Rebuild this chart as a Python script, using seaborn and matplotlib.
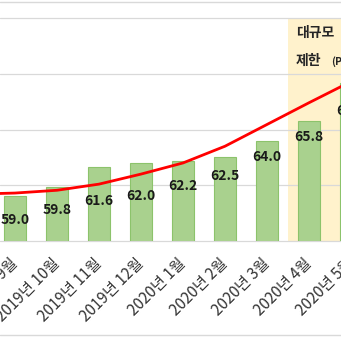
import numpy as np
import matplotlib
matplotlib.use("Agg")
import matplotlib.pyplot as plt
from matplotlib.lines import Line2D
import seaborn as sns

sns.set_style("white")
plt.rcParams["font.family"] = ["Noto Sans CJK KR", "DejaVu Sans"]

# Monthly index values
months = ["2019년 9월", "2019년 10월", "2019년 11월", "2019년 12월",
          "2020년 1월", "2020년 2월", "2020년 3월", "2020년 4월", "2020년 5월"]
values = [59.0, 59.8, 61.6, 62.0, 62.2, 62.5, 64.0, 65.8, 69.2]

# Trend curve sampled at month positions (position -1 is the month before the first shown)
trend_pos = [-1, 0, 1, 2, 3, 4, 5, 6, 7, 8]
trend_vals = [59.2, 59.3, 59.55, 60.1, 61.0, 62.0, 63.5, 65.45, 67.4, 69.3]

# Gridline levels
grid_levels = [55, 60, 65, 70, 75]

# How far each value label sits below its bar top (pixels)
label_drop_px = [24, 23, 34, 33, 25, 19, 16, 16, 28]

W, H, DPI = 341, 337, 100
fig = plt.figure(figsize=(W / DPI, H / DPI), dpi=DPI)
fig.patch.set_facecolor("white")

# Plot area: y from 18px (75) down to 241px (55); it runs on past the right
# edge of the canvas so the last month's tick label is still laid out
top_px, base_px = 18, 241
px_per_month = 42.0
x_left = -0.357
extra_px = 80
ax = fig.add_axes([0, (H - base_px) / H, (W + extra_px) / W, (base_px - top_px) / H])
ax.set_facecolor("white")

pos = np.arange(len(months))

# Highlighted period
ax.axvspan(6.5, 9.5, color="#FFF2CC", zorder=0, lw=0)

sns.barplot(x=pos, y=values, native_scale=True, width=0.52, color="#A9D18E",
            saturation=1, edgecolor="#8CC36B", linewidth=0.8, ax=ax, zorder=2)

sns.lineplot(x=trend_pos, y=trend_vals, color="#FF0000", lw=2.0, ax=ax,
             zorder=4, sort=True)

ax.set_yticks(grid_levels)
ax.tick_params(axis="y", length=0, labelleft=False)
ax.set_ylabel("")
ax.set_xlabel("")
ax.set_axisbelow(True)
ax.grid(axis="y", color="#D9D9D9", lw=0.9)
ax.grid(axis="x", visible=False)
for gl in ax.get_ygridlines():
    gl.set_clip_on(False)
for s in ax.spines.values():
    s.set_visible(False)

ax.set_xticks(pos)
ax.set_xticklabels(months, rotation=45, ha="right", va="center",
                   rotation_mode="anchor", fontsize=11, color="#333333")
ax.tick_params(axis="x", length=0, pad=14.4)

ax.set_xlim(x_left, x_left + (W + extra_px) / px_per_month)
ax.set_ylim(55, 75)

# Value labels
for i, v in enumerate(values):
    ax.annotate(f"{v:.1f}", xy=(pos[i], v), xytext=(0, -label_drop_px[i] * 72 / DPI),
                textcoords="offset points", ha="center", va="center",
                fontsize=10, fontweight="bold", color="#1A1A1A", zorder=5,
                annotation_clip=False)

# Period annotation
fig.text(296 / W, 1 - 33 / H, "대규모", ha="left", va="center",
         fontsize=10, fontweight="bold", color="#262626")
fig.text(296 / W, 1 - 61 / H, "제한", ha="left", va="center",
         fontsize=10, fontweight="bold", color="#262626")
fig.text(331 / W, 1 - 62 / H, "(P", ha="left", va="center",
         fontsize=7.5, fontweight="bold", color="#262626")

# Outer chart frame lines
for ypx in (1, 334):
    yf = 1 - (ypx + 0.5) / H
    fig.add_artist(Line2D([0, 1], [yf, yf], transform=fig.transFigure,
                          color="#D9D9D9", lw=1.0))

fig.savefig("out.png", dpi=DPI)
